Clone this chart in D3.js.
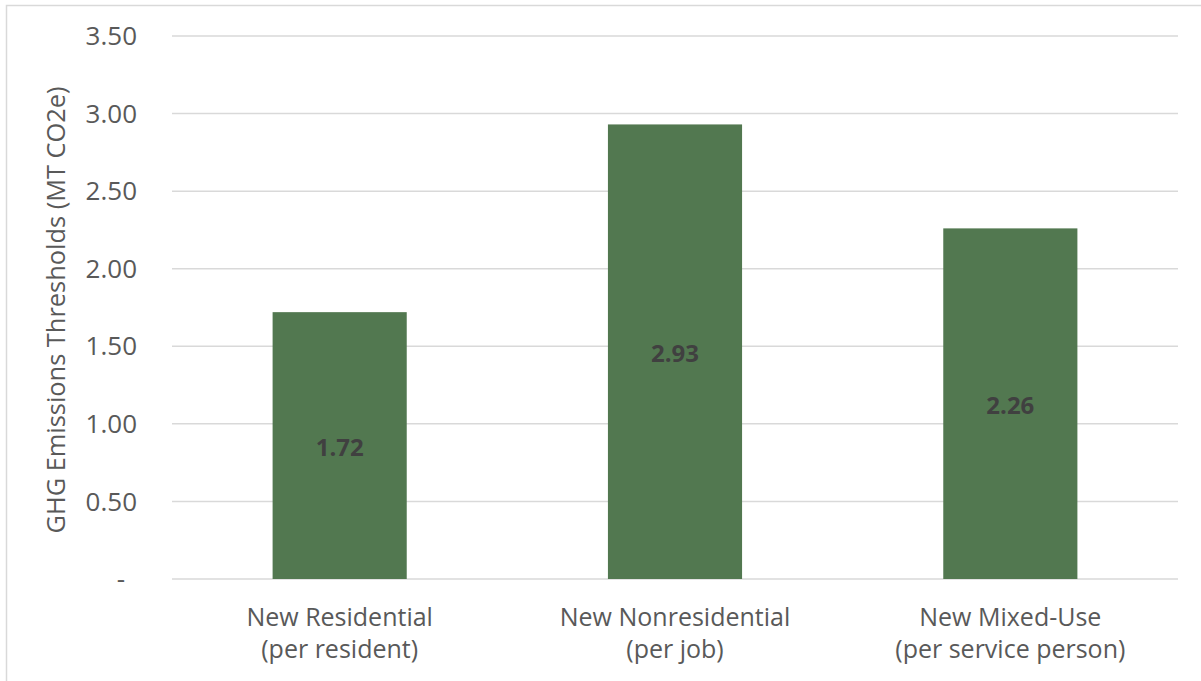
<!DOCTYPE html>
<html lang="en">
<head>
    <meta charset="UTF-8">
    <title>GHG Emissions Thresholds</title>
    <script src="https://d3js.org/d3.v7.min.js"></script>
    <style>
        body { margin: 0; background: #fff; }
        svg { display: block; font-family: "Open Sans", sans-serif; }
        .grid line { stroke: #d9d9d9; stroke-width: 1.5; }
        .tick-label { fill: #595959; font-size: 26px; }
        .cat-label { fill: #595959; font-size: 25px; }
        .axis-title { fill: #595959; font-size: 25.4px; }
        .bar { fill: #527850; }
        .value-label { fill: #404040; font-size: 24px; font-weight: bold; }
    </style>
</head>
<body>
    <svg width="1201" height="681"></svg>
    <script>
        const categories = [
            ["New Residential", "(per resident)"],
            ["New Nonresidential", "(per job)"],
            ["New Mixed-Use", "(per service person)"]
        ];
        const values = [1.72, 2.93, 2.26];
        const tickValues = [0, 0.5, 1, 1.5, 2, 2.5, 3, 3.5];
        const yTitle = "GHG Emissions Thresholds (MT CO2e)";

        const svg = d3.select("svg");

        // outer chart frame
        svg.append("rect")
            .attr("x", 6.5).attr("y", 5.5)
            .attr("width", 1210).attr("height", 700)
            .attr("fill", "none")
            .attr("stroke", "#d9d9d9")
            .attr("stroke-width", 1.5);

        const plotLeft = 172, plotRight = 1178, plotTop = 36, plotBottom = 579;

        const y = d3.scaleLinear().domain([0, 3.5]).range([plotBottom, plotTop]);
        const x = d3.scaleBand()
            .domain(categories.map((d, i) => i))
            .range([plotLeft, plotRight])
            .paddingInner(0.6)
            .paddingOuter(0.3);

        svg.append("g")
            .attr("class", "grid")
            .selectAll("line")
            .data(tickValues)
            .enter()
            .append("line")
            .attr("x1", plotLeft).attr("x2", plotRight)
            .attr("y1", d => y(d)).attr("y2", d => y(d));

        // accounting-style labels: zero shows as a dash, set in from the right
        svg.append("g")
            .selectAll("text")
            .data(tickValues)
            .enter()
            .append("text")
            .attr("class", "tick-label")
            .attr("x", d => d === 0 ? 125 : 137)
            .attr("y", d => y(d))
            .attr("dy", "0.35em")
            .attr("text-anchor", "end")
            .text(d => d === 0 ? "-" : d.toFixed(2));

        svg.append("text")
            .attr("class", "axis-title")
            .attr("transform", `translate(65,310) rotate(-90)`)
            .attr("text-anchor", "middle")
            .text(yTitle);

        svg.selectAll(".bar")
            .data(values)
            .enter()
            .append("rect")
            .attr("class", "bar")
            .attr("x", (d, i) => x(i))
            .attr("y", d => y(d))
            .attr("width", x.bandwidth())
            .attr("height", d => y(0) - y(d));

        svg.selectAll(".value-label")
            .data(values)
            .enter()
            .append("text")
            .attr("class", "value-label")
            .attr("x", (d, i) => x(i) + x.bandwidth() / 2)
            .attr("y", d => (y(d) + y(0)) / 2 + 2)
            .attr("dy", "0.35em")
            .attr("text-anchor", "middle")
            .text(d => d.toFixed(2));

        const cats = svg.selectAll(".cat-label")
            .data(categories)
            .enter()
            .append("text")
            .attr("class", "cat-label")
            .attr("text-anchor", "middle");
        cats.append("tspan")
            .attr("x", (d, i) => x(i) + x.bandwidth() / 2)
            .attr("y", 626)
            .text(d => d[0]);
        cats.append("tspan")
            .attr("x", (d, i) => x(i) + x.bandwidth() / 2)
            .attr("y", 658)
            .text(d => d[1]);
    </script>
</body>
</html>
